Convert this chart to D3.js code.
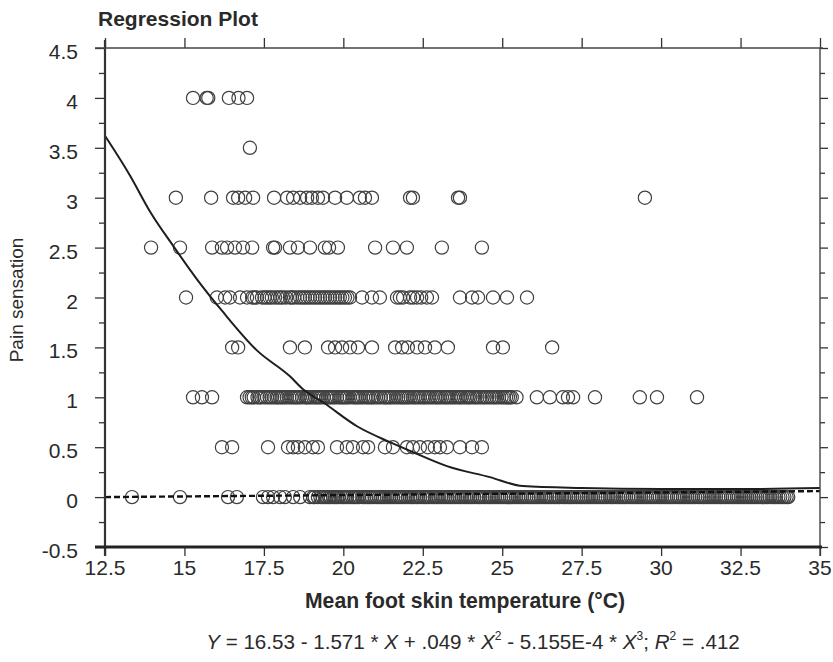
<!DOCTYPE html>
<html>
<head>
<meta charset="utf-8">
<script src="https://cdn.jsdelivr.net/npm/d3@7"></script>
<style>
  body { margin: 0; background: #fff; }
  svg { display: block; }
  text { font-family: "Liberation Sans", Arial, sans-serif; fill: #2a2a2a; }
</style>
</head>
<body>
<svg id="chart" width="833" height="662"></svg>
<script>
// ---------- data ----------
const xTicks = [12.5, 15, 17.5, 20, 22.5, 25, 27.5, 30, 32.5, 35];
const yTicks = [-0.5, 0, 0.5, 1, 1.5, 2, 2.5, 3, 3.5, 4, 4.5];
const yMinorTicks = [-0.25, 0.25, 0.75, 1.25, 1.75, 2.25, 2.75, 3.25, 3.75, 4.25];

const row4 = [15.27, 15.7, 15.75, 16.4, 16.7, 16.97];
const row35 = [17.06];
const row3 = [14.73, 15.84, 16.53, 16.69, 16.91, 17.16, 17.82, 18.23, 18.42, 18.64, 18.86, 19.01, 19.2, 19.36,
  19.74, 20.11, 20.52, 20.68, 20.9, 22.1, 22.19, 23.61, 23.67, 29.49];
const row25 = [13.95, 14.86, 15.87, 16.18, 16.34, 16.59, 16.84, 17.13, 17.79, 17.85, 18.32, 18.57, 18.95,
  19.42, 19.55, 19.83, 21.0, 21.56, 22.0, 23.1, 24.36];
const row2 = [15.05, 16.02, 16.28, 16.43, 16.75, 16.97, 17.13, 17.28, 17.44, 17.6, 17.75, 17.94, 18.1, 18.32,
  18.45, 18.64, 18.79, 18.95, 19.11, 19.27, 19.42, 19.58, 19.74, 19.89, 20.05, 20.21, 20.59, 20.9, 21.15,
  21.69, 21.88, 22.1, 22.32, 22.63, 22.79, 23.67, 24.05, 24.24, 24.71, 25.15, 25.78,
  17.2, 17.52, 17.68, 17.85, 18.02, 18.2, 18.38, 18.55, 18.72, 18.87, 19.03, 19.19, 19.35, 19.5, 19.66,
  19.82, 19.97, 20.13, 21.78, 22.2, 22.45];
const row15 = [16.5, 16.69, 18.32, 18.79, 19.52, 19.74, 19.96, 20.21, 20.46, 20.9, 21.63, 21.85, 22.03,
  22.32, 22.57, 22.88, 23.29, 24.71, 25.02, 26.57];
const row1 = [15.27, 15.55, 15.87, 16.97, 17.05, 17.18, 17.3, 17.42, 17.6, 17.68, 17.83, 17.95, 18.08, 18.22,
  18.37, 18.5, 18.62, 18.8, 18.9, 19.05, 19.18, 19.3, 19.47, 19.6, 19.72, 19.88, 20.0, 20.12, 20.3, 20.42,
  20.55, 20.7, 20.83, 20.95, 21.1, 21.27, 21.38, 21.5, 21.66, 21.8, 21.92, 22.05, 22.2, 22.33, 22.48, 22.6,
  22.75, 22.9, 23.03, 23.18, 23.3, 23.45, 23.6, 23.72, 23.88, 24.0, 24.15, 24.3, 24.45, 24.6, 24.75, 24.9,
  25.05, 25.18, 25.3, 25.45, 26.09, 26.5, 26.91, 27.07, 27.23, 27.92, 29.33, 29.87, 31.13,
  17.12, 17.36, 17.52, 17.75, 17.9, 18.02, 18.15, 18.3, 18.44, 18.56, 18.7, 18.85, 18.97, 19.12, 19.24,
  19.38, 19.53, 19.66, 19.8, 19.94, 20.06, 20.2, 20.36, 20.48, 20.62, 20.77, 20.9, 21.03, 21.18, 21.32,
  21.44, 21.58, 21.73, 21.86, 21.99, 22.12, 22.26, 22.4, 22.54, 22.68, 22.82, 22.96, 23.1, 23.24, 23.38,
  23.52, 23.66, 23.8, 23.94, 24.08, 24.22, 24.38, 24.52, 24.68, 24.82, 24.98, 25.12, 25.24];
const row05 = [16.18, 16.5, 17.63, 18.26, 18.42, 18.57, 18.79, 19.04, 19.2, 19.8, 20.11, 20.3, 20.62, 20.78,
  21.31, 21.56, 22.0, 22.19, 22.41, 22.66, 22.88, 23.04, 23.26, 23.67, 24.05, 24.36];
const row0 = [13.35, 14.86, 16.37, 16.65, 17.47, 17.63, 17.79, 18.01, 18.16, 18.42, 18.64, 18.95,
  19.1, 19.2, 19.35, 19.48, 19.6, 19.74, 19.85, 20.0, 20.12, 20.27, 20.38, 20.5, 20.66, 20.78, 20.9, 21.05,
  21.18, 21.3, 21.44, 21.57, 21.7, 21.83, 21.96, 22.1, 22.22, 22.35, 22.5, 22.62, 22.74, 22.88, 23.0, 23.15,
  23.28, 23.4, 23.53, 23.66, 23.8, 23.92, 24.05, 24.2, 24.31, 24.45, 24.58, 24.7, 24.84, 24.97, 25.1, 25.24,
  25.36, 25.5, 25.62, 25.76, 25.9, 26.02, 26.15, 26.3, 26.42, 26.55, 26.68, 26.8, 26.95, 27.08, 27.2, 27.34,
  27.47, 27.6, 27.72, 27.86, 28.0, 28.12, 28.25, 28.4, 28.52, 28.65, 28.78, 28.9, 29.05, 29.18, 29.3, 29.44,
  29.56, 29.7, 29.83, 29.96, 30.1, 30.22, 30.35, 30.5, 30.62, 30.75, 30.88, 31.0, 31.15, 31.28, 31.4, 31.53,
  31.66, 31.8, 31.92, 32.05, 32.2, 32.32, 32.45, 32.58, 32.7, 32.84, 32.97, 33.1, 33.22, 33.35, 33.5, 33.62,
  33.75, 33.88, 34.0,
  19.05, 19.28, 19.42, 19.55, 19.68, 19.8, 19.93, 20.06, 20.2, 20.33, 20.45, 20.6, 20.72, 20.84, 20.98,
  21.12, 21.24, 21.37, 21.5, 21.64, 21.77, 21.9, 22.03, 22.16, 22.29, 22.42, 22.56, 22.68, 22.81, 22.94,
  23.08, 23.21, 23.34, 23.47, 23.6, 23.73, 23.86, 23.99, 24.12, 24.26, 24.38, 24.51, 24.64, 24.77, 24.9,
  25.04, 25.17, 25.3, 25.43, 25.56, 25.69, 25.83, 25.96, 26.09, 26.22, 26.36, 26.49, 26.62, 26.75, 26.88,
  27.01, 27.14, 27.27, 27.4, 27.53, 27.66, 27.79, 27.93, 28.06, 28.19, 28.32, 28.46, 28.59, 28.72, 28.84,
  28.97, 29.11, 29.24, 29.37, 29.5, 29.63, 29.76, 29.9, 30.03, 30.16, 30.29, 30.42, 30.56, 30.69, 30.82,
  30.94, 31.07, 31.21, 31.34, 31.47, 31.6, 31.73, 31.86, 31.99, 32.12, 32.26, 32.39, 32.52, 32.64, 32.77,
  32.9, 33.03, 33.16, 33.29, 33.42, 33.56, 33.69, 33.82, 33.95];

const rowLevels = [4, 3.5, 3, 2.5, 2, 1.5, 1, 0.5, 0];
const rowValues = [row4, row35, row3, row25, row2, row15, row1, row05, row0];

// fitted cubic curve as drawn
const curveX = [12.5, 13.29, 13.92, 14.64, 15.4, 16.2, 17.28, 18.32, 18.73, 19.36, 20.43, 21.47, 22.19, 23.26, 24.61, 25.65, 27.5, 30, 32.5, 35];
const curveY = [3.62, 3.22, 2.86, 2.52, 2.18, 1.86, 1.47, 1.21, 1.08, 0.95, 0.71, 0.55, 0.45, 0.31, 0.2, 0.11, 0.09, 0.08, 0.08, 0.09];
// dashed reference line
const refX = [12.5, 35];
const refY = [0, 0.06];

const titleText = "Regression Plot";
const xLabel = "Mean foot skin temperature (°C)";
const yLabel = "Pain sensation";

// ---------- drawing ----------
(function () {
const svg = d3.select("#chart");
svg.append("rect").attr("width", 833).attr("height", 662).attr("fill", "#fff");

const x = d3.scaleLinear().domain([12.5, 35]).range([105, 820]);
const y = d3.scaleLinear().domain([-0.5, 4.5]).range([547, 48]);

const points = [];
rowLevels.forEach((lv, i) => rowValues[i].forEach(v => points.push({ x: v, y: lv })));

// points
svg.append("g").selectAll("circle").data(points).join("circle")
  .attr("cx", d => x(d.x)).attr("cy", d => y(d.y)).attr("r", 6.6)
  .attr("fill", "none").attr("stroke", "#404040").attr("stroke-width", 1.2);

// dashed line
const line = d3.line().x(d => x(d[0])).y(d => y(d[1]));
svg.append("path").datum(d3.zip(refX, refY)).attr("d", line)
  .attr("fill", "none").attr("stroke", "#111").attr("stroke-width", 2.4).attr("stroke-dasharray", "6,3");

// curve
const curveLine = d3.line().x(d => x(d[0])).y(d => y(d[1])).curve(d3.curveMonotoneX);
svg.append("path").datum(d3.zip(curveX, curveY)).attr("d", curveLine)
  .attr("fill", "none").attr("stroke", "#1e1e1e").attr("stroke-width", 2);

// axes
const axisColor = "#333";
const gLeft = svg.append("g").attr("transform", `translate(${x(12.5)},0)`)
  .call(d3.axisLeft(y).tickValues(yTicks).tickSize(10).tickFormat(""));
const gLeftMinor = svg.append("g").attr("transform", `translate(${x(12.5)},0)`)
  .call(d3.axisLeft(y).tickValues(yMinorTicks).tickSize(6).tickFormat(""));
const gRight = svg.append("g").attr("transform", `translate(${x(35)},0)`)
  .call(d3.axisRight(y).tickValues(yTicks).tickSize(8).tickFormat(""));
const gRightMinor = svg.append("g").attr("transform", `translate(${x(35)},0)`)
  .call(d3.axisRight(y).tickValues(yMinorTicks).tickSize(5).tickFormat(""));
const gBottom = svg.append("g").attr("transform", `translate(0,${y(-0.5)})`)
  .call(d3.axisBottom(x).tickValues(xTicks).tickSize(9).tickFormat(""));
const gTop = svg.append("g").attr("transform", `translate(0,${y(4.5)})`)
  .call(d3.axisTop(x).tickValues(xTicks).tickSize(10).tickFormat(""));

[gLeft, gLeftMinor, gRight, gRightMinor, gBottom, gTop].forEach(g => {
  g.selectAll("line").attr("stroke", axisColor).attr("stroke-width", 1.3);
  g.select(".domain").remove();
});

// frame
svg.append("line").attr("x1", x(12.5)).attr("x2", x(12.5)).attr("y1", y(4.5) - 8).attr("y2", y(-0.5) + 9)
  .attr("stroke", "#333").attr("stroke-width", 2.2);
svg.append("line").attr("x1", x(35)).attr("x2", x(35)).attr("y1", y(4.5)).attr("y2", y(-0.5) + 9)
  .attr("stroke", "#444").attr("stroke-width", 1.4);
svg.append("line").attr("x1", x(12.5) - 10).attr("x2", x(35) + 3).attr("y1", y(4.5)).attr("y2", y(4.5))
  .attr("stroke", "#444").attr("stroke-width", 1.5);
svg.append("line").attr("x1", x(12.5) - 10).attr("x2", x(35) + 2).attr("y1", y(-0.5)).attr("y2", y(-0.5))
  .attr("stroke", "#222").attr("stroke-width", 3);

// tick labels
svg.append("g").selectAll("text").data(yTicks).join("text")
  .attr("x", 78).attr("y", d => y(d) + 11).attr("text-anchor", "end")
  .style("font-size", "21px").text(d => d);
svg.append("g").selectAll("text").data(xTicks).join("text")
  .attr("x", d => x(d)).attr("y", 575).attr("text-anchor", "middle")
  .style("font-size", "21px").text(d => d);

// title
svg.append("text").attr("x", 98).attr("y", 26).style("font-size", "21px").style("font-weight", "bold")
  .text(titleText);

// x label
svg.append("text").attr("x", 465).attr("y", 608).attr("text-anchor", "middle")
  .style("font-size", "22px").style("font-weight", "bold")
  .attr("textLength", 320).attr("lengthAdjust", "spacingAndGlyphs").text(xLabel);

// y label
svg.append("text").attr("transform", "translate(23,300) rotate(-90)").attr("text-anchor", "middle")
  .style("font-size", "19px").text(yLabel);

// equation (single text element, superscripts as tspans)
const eq = svg.append("text").attr("x", 473).attr("y", 649).attr("text-anchor", "middle")
  .style("font-size", "20.6px");
const parts = [["i", "Y"], ["n", " = 16.53 - 1.571 * "], ["i", "X"], ["n", " + .049 * "], ["i", "X"], ["s", "2"],
  ["n", " - 5.155E-4 * "], ["i", "X"], ["s", "3"], ["n", "; "], ["i", "R"], ["s", "2"], ["n", " = .412"]];
let prevSup = false;
parts.forEach(([k, t]) => {
  const ts = eq.append("tspan").text(t);
  if (k === "i") ts.style("font-style", "italic");
  if (k === "s") { ts.attr("dy", -9).style("font-size", "12px"); prevSup = true; }
  else if (prevSup) { ts.attr("dy", 9); prevSup = false; }
});
})();
</script>
</body>
</html>
